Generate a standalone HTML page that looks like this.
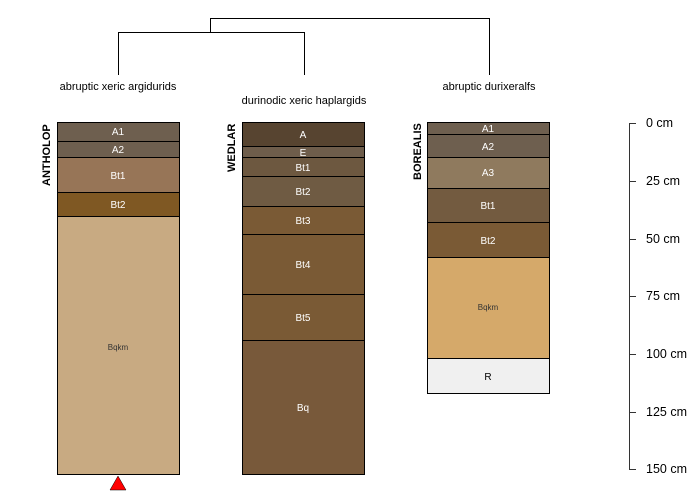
<!DOCTYPE html>
<html><head><style>body{margin:0;background:#fff}svg{display:block}text{font-family:"Liberation Sans",sans-serif}</style></head><body>
<svg width="700" height="500" viewBox="0 0 700 500">
<g stroke="#000" stroke-width="1" fill="none">
<path d="M210.5 32V18.5H489.5V75"/>
<path d="M118.5 75V32.5H304.5V75"/>
</g>
<g font-size="11" fill="#000" text-anchor="middle">
<text x="118" y="90">abruptic xeric argidurids</text>
<text x="304" y="104">durinodic xeric haplargids</text>
<text x="489" y="90">abruptic durixeralfs</text>
</g>
<g font-size="11" font-weight="bold" fill="#000">
<text transform="translate(50,186) rotate(-90)">ANTHOLOP</text>
<text transform="translate(235,172) rotate(-90)">WEDLAR</text>
<text transform="translate(421,180) rotate(-90)">BOREALIS</text>
</g>
<g stroke="#000" stroke-width="1">
<rect x="57.5" y="122.5" width="122" height="19" fill="#6e5f4f"/>
<rect x="57.5" y="141.5" width="122" height="16" fill="#6e5f4f"/>
<rect x="57.5" y="157.5" width="122" height="35" fill="#977557"/>
<rect x="57.5" y="192.5" width="122" height="24" fill="#7f5823"/>
<rect x="57.5" y="216.5" width="122" height="258" fill="#c8aa82"/>
<rect x="242.5" y="122.5" width="122" height="24" fill="#574430"/>
<rect x="242.5" y="146.5" width="122" height="11" fill="#6e5d4b"/>
<rect x="242.5" y="157.5" width="122" height="19" fill="#6d5840"/>
<rect x="242.5" y="176.5" width="122" height="30" fill="#6f5b43"/>
<rect x="242.5" y="206.5" width="122" height="28" fill="#7a5a35"/>
<rect x="242.5" y="234.5" width="122" height="60" fill="#7a5a35"/>
<rect x="242.5" y="294.5" width="122" height="46" fill="#7a5a35"/>
<rect x="242.5" y="340.5" width="122" height="134" fill="#78593a"/>
<rect x="427.5" y="122.5" width="122" height="12" fill="#6e5f4f"/>
<rect x="427.5" y="134.5" width="122" height="23" fill="#6e5f4f"/>
<rect x="427.5" y="157.5" width="122" height="31" fill="#8f7a5e"/>
<rect x="427.5" y="188.5" width="122" height="34" fill="#735b40"/>
<rect x="427.5" y="222.5" width="122" height="35" fill="#7a5a35"/>
<rect x="427.5" y="257.5" width="122" height="101" fill="#d5a96a"/>
<rect x="427.5" y="358.5" width="122" height="35" fill="#f0f0f0"/>
</g>
<g font-size="10" fill="#fff" text-anchor="middle">
<text x="118" y="135">A1</text><text x="118" y="153">A2</text>
<text x="118" y="179">Bt1</text><text x="118" y="208">Bt2</text>
<text x="303" y="138">A</text><text x="303" y="156">E</text>
<text x="303" y="171">Bt1</text><text x="303" y="195">Bt2</text>
<text x="303" y="224">Bt3</text><text x="303" y="268">Bt4</text>
<text x="303" y="321">Bt5</text><text x="303" y="411">Bq</text>
<text x="488" y="132">A1</text><text x="488" y="150">A2</text>
<text x="488" y="176">A3</text><text x="488" y="209">Bt1</text>
<text x="488" y="244">Bt2</text>
</g>
<g font-size="8" fill="#333" text-anchor="middle">
<text x="118" y="350">Bqkm</text><text x="488" y="310">Bqkm</text>
</g>
<text x="488" y="380" font-size="10" fill="#000" text-anchor="middle">R</text>
<path d="M118 476L126 490H110Z" fill="#f00" stroke="#000" stroke-width="0.5"/>
<g stroke="#333" stroke-width="1">
<path d="M629.5 123V469"/>
<path d="M629 123.5H636M629 181.5H636M629 239.5H636M629 296.5H636M629 354.5H636M629 412.5H636M629 469.5H636"/>
</g>
<g font-size="12.5" fill="#000">
<text x="646" y="127">0 cm</text><text x="646" y="185">25 cm</text>
<text x="646" y="243">50 cm</text><text x="646" y="300">75 cm</text>
<text x="646" y="358">100 cm</text><text x="646" y="416">125 cm</text>
<text x="646" y="473">150 cm</text>
</g>
</svg>
</body></html>
